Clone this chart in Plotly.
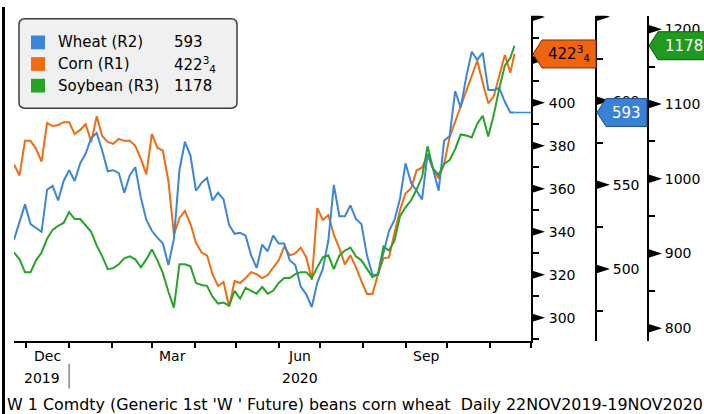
import pandas as pd
import plotly.graph_objects as go

# ---------------- data ----------------
start_date = "2019-11-22"
step_days = 4
end_date = "2020-11-19"

corn = [371.3, 366.2, 382.3, 382.3, 378.6, 372.6, 390.6, 389.2, 389.7, 391.0,
        391.0, 385.5, 387.4, 390.1, 381.8, 393.8, 384.6, 381.8, 380.9, 383.2,
        382.3, 382.3, 380.0, 374.0, 366.7, 385.5, 379.1, 377.7, 363.5, 338.6,
        346.4, 349.7, 343.7, 334.9, 330.3, 329.0, 320.2, 314.7, 316.6, 305.1,
        317.0, 316.1, 318.4, 321.2, 320.2, 318.4, 319.8, 323.5, 326.7, 333.1,
        329.0, 329.9, 332.6, 328.0, 317.5, 351.0, 345.5, 347.8, 338.6, 332.2,
        324.8, 329.0, 323.5, 317.0, 311.0, 311.0, 320.2, 327.6, 328.0, 339.5,
        350.1, 357.9, 360.2, 368.5, 369.9, 375.4, 369.4, 364.8, 371.7, 384.1,
        391.0, 398.4, 404.8, 412.2, 419.6, 409.4, 399.8, 403.0, 412.2, 422.3,
        414.0, 422.75]

wheat = [517.4, 528.5, 538.4, 526.7, 524.4, 522.1, 547.1, 549.4, 540.7, 552.3,
         558.7, 552.3, 562.8, 568.6, 577.9, 580.8, 570.3, 558.1, 558.7, 557.0,
         545.3, 555.8, 560.5, 542.4, 529.1, 522.7, 518.6, 515.1, 502.3, 518.0,
         558.7, 575.6, 567.4, 546.5, 551.2, 554.1, 540.7, 545.3, 541.3, 526.2,
         520.9, 521.5, 519.8, 508.1, 500.6, 514.5, 510.5, 519.8, 515.1, 515.1,
         505.2, 502.3, 489.5, 484.9, 477.3, 491.9, 500.0, 516.9, 550.0, 531.4,
         531.4, 537.8, 529.7, 526.7, 508.1, 496.5, 496.5, 510.5, 522.7, 529.1,
         541.9, 562.8, 551.2, 546.5, 541.3, 568.6, 559.3, 546.5, 576.2, 579.1,
         605.8, 595.9, 614.0, 629.1, 624.4, 628.5, 606.4, 606.4, 607.6, 599.4,
         593.0, 593.0]

soybean = [901.3, 892.1, 875.0, 875.0, 890.8, 901.3, 919.7, 931.6, 936.8, 940.8,
           955.3, 946.1, 946.1, 938.2, 928.9, 910.5, 896.1, 878.9, 880.3, 885.5,
           893.4, 896.1, 892.1, 881.6, 892.1, 905.3, 890.8, 873.7, 848.7, 827.6,
           885.5, 885.5, 882.9, 860.5, 857.9, 856.6, 842.1, 832.9, 834.2, 830.3,
           850.0, 839.5, 853.9, 850.0, 846.1, 855.3, 846.1, 850.0, 860.5, 867.1,
           867.1, 872.4, 875.0, 875.0, 867.1, 881.6, 894.7, 897.4, 878.9, 897.4,
           903.9, 907.9, 896.1, 890.8, 878.9, 868.4, 872.4, 909.2, 903.9, 917.1,
           950.0, 961.8, 971.1, 985.5, 1002.6, 1043.4, 1013.2, 1005.3, 1019.7, 1025.0,
           1039.5, 1059.2, 1057.9, 1055.3, 1073.7, 1084.2, 1056.6, 1085.5, 1121.1, 1151.3,
           1161.8, 1178.0]

last_labels = {"wheat": "593", "corn": "422<sup>3</sup><sub>4</sub>", "soy": "1178"}
series_names = ["Wheat (R2)", "Corn (R1)", "Soybean (R3)"]

x_range = ["2019-11-22", "2020-12-01"]
month_label_months = ["2019-12", "2020-03", "2020-06", "2020-09"]
month_labels = ["Dec", "Mar", "Jun", "Sep"]
year_labels = ["2019", "2020"]
year_break = "2020-01-01"

r1_ticks = [300, 320, 340, 360, 380, 400, 420, 440]
r1_minor = [290, 310, 330, 350, 370, 390, 410, 430]
r2_ticks = [500, 550, 600, 650]
r2_minor = [475, 525, 575, 625]
r3_ticks = [800, 900, 1000, 1100, 1200]
r3_minor = [850, 950, 1050, 1150]

caption = "W 1 Comdty (Generic 1st 'W ' Future) beans corn wheat  Daily 22NOV2019-19NOV2020"

# ---------------- styles / layout ----------------
W, H = 704, 414
FONT = "DejaVu Sans, sans-serif"
C_WHEAT, C_CORN, C_SOY = "#3a86d8", "#f26b10", "#27a327"
TAG_WHEAT, TAG_CORN, TAG_SOY = "#3a80d4", "#f06410", "#1f9a1f"


def px(x):
    return x / W


def py(y):
    return 1 - y / H


X_DOM = [px(14), px(531)]
Y_DOM = [py(340), py(9)]
R2_POS = px(596)
R3_POS = px(648)
R1_RANGE = [289, 440.5]
R2_RANGE = [457, 650.5]
R3_RANGE = [782.5, 1218]

dates = list(pd.date_range(start_date, periods=len(corn) - 1, freq=f"{step_days}D")) + [pd.Timestamp(end_date)]

fig = go.Figure()
fig.add_trace(go.Scatter(x=dates, y=soybean, yaxis="y3", mode="lines",
                         line=dict(color=C_SOY, width=2), name=series_names[2]))
fig.add_trace(go.Scatter(x=dates, y=corn, yaxis="y", mode="lines",
                         line=dict(color=C_CORN, width=2), name=series_names[1]))
fig.add_trace(go.Scatter(x=dates, y=wheat, yaxis="y2", mode="lines",
                         line=dict(color=C_WHEAT, width=2), name=series_names[0]))
# last-value extension of wheat to the end of the axis
fig.add_trace(go.Scatter(x=[dates[-1], pd.Timestamp(x_range[1])], y=[wheat[-1], wheat[-1]],
                         yaxis="y2", mode="lines", line=dict(color=C_WHEAT, width=1.5),
                         showlegend=False))

tickfont = dict(family=FONT, size=14, color="black")


def yax(rng, ticks, minor, hide_top=True):
    txt = [str(t) for t in ticks]
    if hide_top:
        txt[-1] = " "
    return dict(range=rng, domain=Y_DOM, side="right", showline=True, linecolor="black",
                linewidth=2, showgrid=False, zeroline=False, ticks="outside", ticklen=13,
                tickcolor="rgba(0,0,0,0)", tickmode="array", tickvals=ticks, ticktext=txt,
                tickfont=tickfont,
                minor=dict(tickmode="array", tickvals=minor, ticks="outside", ticklen=6,
                           tickwidth=1.5, tickcolor="black", showgrid=False))


ya1 = yax(R1_RANGE, r1_ticks, r1_minor)
ya1.update(anchor="x")
ya2 = yax(R2_RANGE, r2_ticks, r2_minor)
ya2.update(anchor="free", overlaying="y", position=R2_POS)
ya3 = yax(R3_RANGE, r3_ticks, r3_minor, hide_top=False)
ya3.update(anchor="free", overlaying="y", position=R3_POS)

shapes = []
annotations = []

# tick arrows
for ref, pos, ticks in (("y", X_DOM[1], r1_ticks), ("y2", R2_POS, r2_ticks), ("y3", R3_POS, r3_ticks)):
    for v in ticks:
        shapes.append(dict(type="path", xref="paper", yref=ref, xsizemode="pixel", ysizemode="pixel",
                           xanchor=pos, yanchor=v, path="M0,4.5 L14,0 L0,-4.5 Z",
                           fillcolor="black", line=dict(width=0), layer="above"))

# last value tags
tags = [("y", X_DOM[1], corn[-1], TAG_CORN, "#7a3000", last_labels["corn"], "black", 2, 11, 65),
        ("y2", R2_POS, wheat[-1], TAG_WHEAT, "#1d4f8a", last_labels["wheat"], "white", 1, 10, 51),
        ("y3", R3_POS, soybean[-1], TAG_SOY, "#0e5a0e", last_labels["soy"], "white", 1, 10, 62)]
for ref, pos, v, fill, edge, txt, tcol, x0, xk, x1 in tags:
    shapes.append(dict(type="path", xref="paper", yref=ref, xsizemode="pixel", ysizemode="pixel",
                       xanchor=pos, yanchor=v,
                       path=f"M{x0},0 L{xk},14 L{x1},14 L{x1},-14 L{xk},-14 Z",
                       fillcolor=fill, line=dict(color=edge, width=1), layer="above"))
    annotations.append(dict(x=pos, y=v, xref="paper", yref=ref, text=txt, showarrow=False,
                            xanchor="center", yanchor="middle", xshift=(xk + x1) / 2,
                            font=dict(family=FONT, size=15, color=tcol)))

# legend box
lx0, lx1, ly0, ly1, r = 19, 237, 12, 103, 6
legend_path = (f"M{px(lx0 + r)},{py(ly0)} L{px(lx1 - r)},{py(ly0)} Q{px(lx1)},{py(ly0)} {px(lx1)},{py(ly0 + r)} "
               f"L{px(lx1)},{py(ly1 - r)} Q{px(lx1)},{py(ly1)} {px(lx1 - r)},{py(ly1)} "
               f"L{px(lx0 + r)},{py(ly1)} Q{px(lx0)},{py(ly1)} {px(lx0)},{py(ly1 - r)} "
               f"L{px(lx0)},{py(ly0 + r)} Q{px(lx0)},{py(ly0)} {px(lx0 + r)},{py(ly0)} Z")
shapes.append(dict(type="path", xref="paper", yref="paper", path=legend_path,
                   fillcolor="#f0f0f0", line=dict(color="#3a3a3a", width=1.5), layer="above"))
legend_rows = [(series_names[0], "593", C_WHEAT, 36), (series_names[1], last_labels["corn"], C_CORN, 58),
               (series_names[2], "1178", C_SOY, 80)]
for name, val, col, ry in legend_rows:
    shapes.append(dict(type="rect", xref="paper", yref="paper", x0=px(31), x1=px(45),
                       y0=py(ry - 7), y1=py(ry + 7), fillcolor=col, line=dict(width=0), layer="above"))
    annotations.append(dict(x=px(56), y=py(ry), xref="paper", yref="paper", text=name, showarrow=False,
                            xanchor="left", yanchor="middle", font=dict(family=FONT, size=15, color="black")))
    annotations.append(dict(x=px(172), y=py(ry), xref="paper", yref="paper", text=val, showarrow=False,
                            xanchor="left", yanchor="middle", font=dict(family=FONT, size=15, color="black")))

# month labels and year labels
for m, lab in zip(month_label_months, month_labels):
    annotations.append(dict(x=pd.Timestamp(m + "-16"), y=py(355), xref="x", yref="paper", text=lab,
                            showarrow=False, xanchor="center", yanchor="middle",
                            font=dict(family=FONT, size=14, color="black")))
t0, tb, t1 = pd.Timestamp(x_range[0]), pd.Timestamp(year_break), pd.Timestamp(x_range[1])
for lab, (a, b) in zip(year_labels, [(t0, tb), (tb, t1)]):
    annotations.append(dict(x=a + (b - a) / 2, y=py(377), xref="x", yref="paper", text=lab,
                            showarrow=False, xanchor="center", yanchor="middle",
                            font=dict(family=FONT, size=14, color="black")))
shapes.append(dict(type="line", xref="x", yref="paper", x0=year_break, x1=year_break,
                   y0=py(363), y1=py(388), line=dict(color="#888888", width=1.5)))

# caption
annotations.append(dict(x=px(5), y=py(404), xref="paper", yref="paper", text=caption, showarrow=False,
                        xanchor="left", yanchor="middle", font=dict(family=FONT, size=15.9, color="black")))

# left frame line
shapes.append(dict(type="line", xref="paper", yref="paper", x0=px(3.5), x1=px(3.5), y0=0, y1=1,
                   line=dict(color="black", width=3)))

fig.update_layout(
    width=W, height=H, margin=dict(l=0, r=0, t=0, b=0),
    paper_bgcolor="white", plot_bgcolor="white", showlegend=False,
    xaxis=dict(domain=X_DOM, type="date", range=x_range, showline=True, linecolor="black",
               linewidth=2, showgrid=False, zeroline=False, ticks="outside", ticklen=5,
               tickwidth=1.5, tickcolor="black", dtick="M1", tick0="2019-12-01",
               showticklabels=False),
    yaxis=ya1, yaxis2=ya2, yaxis3=ya3,
    shapes=shapes, annotations=annotations,
)

fig.write_html("out.html", config={"displayModeBar": False},
               post_script="document.body.style.margin='0';document.body.style.overflow='hidden';")
